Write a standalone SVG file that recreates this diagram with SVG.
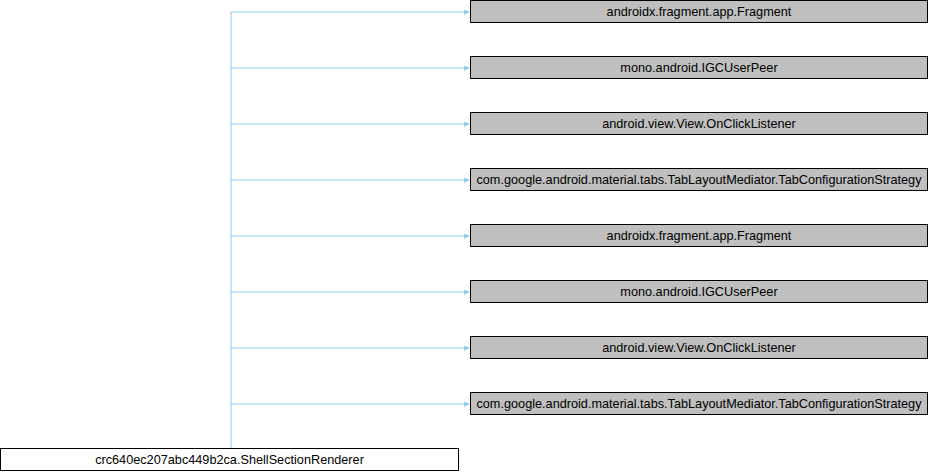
<svg xmlns="http://www.w3.org/2000/svg" width="930" height="472" viewBox="0 0 930 472">
<style>
.n rect{fill:#bfbfbf;stroke:#000;stroke-width:1}
.w rect{fill:#fff;stroke:#000;stroke-width:1}
text{font-family:"Liberation Sans",Arial,Helvetica,sans-serif;font-size:12.7px;fill:#000;text-anchor:middle}
.e{fill:none;stroke:#8fcbe8;stroke-width:1}
</style>
<defs>
<marker id="ah" viewBox="0 0 10 10" refX="10" refY="5" markerWidth="5" markerHeight="5" markerUnits="userSpaceOnUse" orient="auto">
<path d="M0,0L10,5L0,10z" fill="#8fcbe8" stroke="#8fcbe8"/>
</marker>
</defs>
<rect width="930" height="472" fill="#fff"/>
<g id="edges">
<path class="e" d="M231,448V12"/>
<path class="e" d="M231,12H469" marker-end="url(#ah)"/>
<path class="e" d="M231,68H469" marker-end="url(#ah)"/>
<path class="e" d="M231,124H469" marker-end="url(#ah)"/>
<path class="e" d="M231,180H469" marker-end="url(#ah)"/>
<path class="e" d="M231,236H469" marker-end="url(#ah)"/>
<path class="e" d="M231,292H469" marker-end="url(#ah)"/>
<path class="e" d="M231,348H469" marker-end="url(#ah)"/>
<path class="e" d="M231,404H469" marker-end="url(#ah)"/>
</g>
<g id="node1" class="n"><rect x="470.5" y="0.5" width="457" height="22"/><text x="699" y="16">androidx.fragment.app.Fragment</text></g>
<g id="node2" class="n"><rect x="470.5" y="56.5" width="457" height="22"/><text x="699" y="72">mono.android.IGCUserPeer</text></g>
<g id="node3" class="n"><rect x="470.5" y="112.5" width="457" height="22"/><text x="699" y="128">android.view.View.OnClickListener</text></g>
<g id="node4" class="n"><rect x="470.5" y="168.5" width="457" height="22"/><text x="699" y="184">com.google.android.material.tabs.TabLayoutMediator.TabConfigurationStrategy</text></g>
<g id="node5" class="n"><rect x="470.5" y="224.5" width="457" height="22"/><text x="699" y="240">androidx.fragment.app.Fragment</text></g>
<g id="node6" class="n"><rect x="470.5" y="280.5" width="457" height="22"/><text x="699" y="296">mono.android.IGCUserPeer</text></g>
<g id="node7" class="n"><rect x="470.5" y="336.5" width="457" height="22"/><text x="699" y="352">android.view.View.OnClickListener</text></g>
<g id="node8" class="n"><rect x="470.5" y="392.5" width="457" height="22"/><text x="699" y="408">com.google.android.material.tabs.TabLayoutMediator.TabConfigurationStrategy</text></g>
<g id="node0" class="w"><rect x="0.5" y="448.5" width="458" height="22"/><text x="229.5" y="464">crc640ec207abc449b2ca.ShellSectionRenderer</text></g>
</svg>
